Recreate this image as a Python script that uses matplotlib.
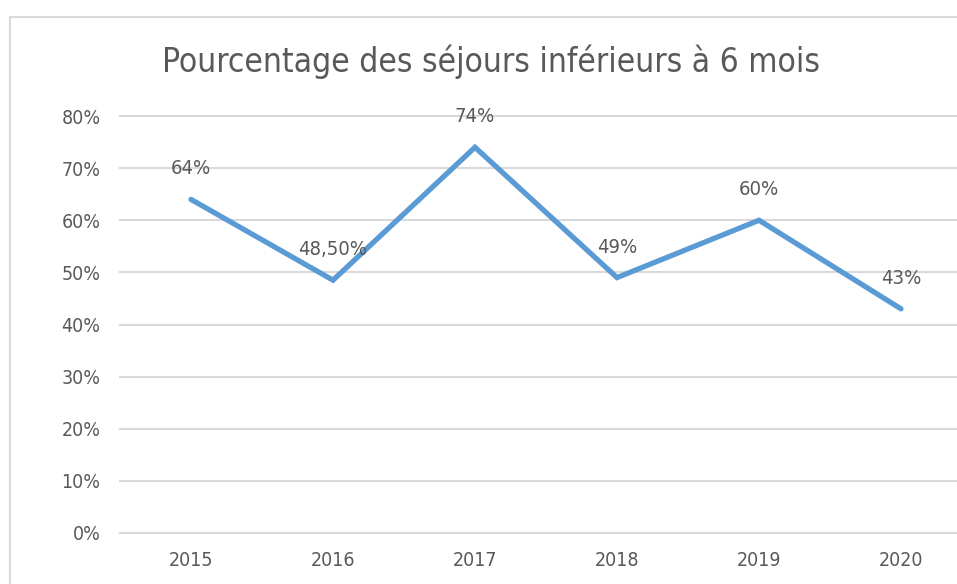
import matplotlib
matplotlib.use("Agg")
import matplotlib.pyplot as plt
from matplotlib.patches import Rectangle

years = ["2015", "2016", "2017", "2018", "2019", "2020"]
values = [0.64, 0.485, 0.74, 0.49, 0.60, 0.43]
labels = ["64%", "48,50%", "74%", "49%", "60%", "43%"]
y_ticks = [0, 0.1, 0.2, 0.3, 0.4, 0.5, 0.6, 0.7, 0.8]

text_color = "#595959"
grid_color = "#D9D9D9"
line_color = "#5B9BD5"

plt.rcParams["font.family"] = ["DejaVu Sans"]
plt.rcParams["font.stretch"] = "condensed"

W, H = 957, 584
fig = plt.figure(figsize=(W / 100, H / 100), dpi=100)

# chart border (cut off at right and bottom like the screenshot)
fig.patches.append(Rectangle((10 / W, -0.1), 1.2, (H - 17) / H + 0.1,
                             transform=fig.transFigure, fill=False,
                             edgecolor=grid_color, linewidth=1.5))

left, right = 120, 972
top, bottom = 116, 533
ax = fig.add_axes([left / W, (H - bottom) / H, (right - left) / W, (bottom - top) / H])

x = range(len(years))
ax.plot(x, values, color=line_color, linewidth=3.8,
        solid_capstyle="round", solid_joinstyle="miter", zorder=3)

for xi, v, lab in zip(x, values, labels):
    ax.annotate(lab, (xi, v), xytext=(0, 22), textcoords="offset points",
                ha="center", va="center", fontsize=14.5, color=text_color, zorder=4)

ax.set_xlim(-0.5, len(years) - 0.5)
ax.set_ylim(0, 0.8)
ax.set_yticks(y_ticks)
ax.set_yticklabels([f"{int(round(t * 100))}%" for t in y_ticks])
ax.set_xticks(list(x))
ax.set_xticklabels(years)
ax.tick_params(axis="both", length=0, labelsize=14, labelcolor=text_color)
ax.tick_params(axis="y", pad=14)
ax.tick_params(axis="x", pad=13)

ax.grid(axis="y", color=grid_color, linewidth=1.5)
for gl in ax.get_ygridlines():
    gl.set_clip_on(False)
ax.set_axisbelow(True)
for s in ax.spines.values():
    s.set_visible(False)

fig.text(491 / W, (H - 62) / H, "Pourcentage des séjours inférieurs à 6 mois",
         ha="center", va="center", fontsize=24, color=text_color)

fig.savefig("out.png", dpi=100)
